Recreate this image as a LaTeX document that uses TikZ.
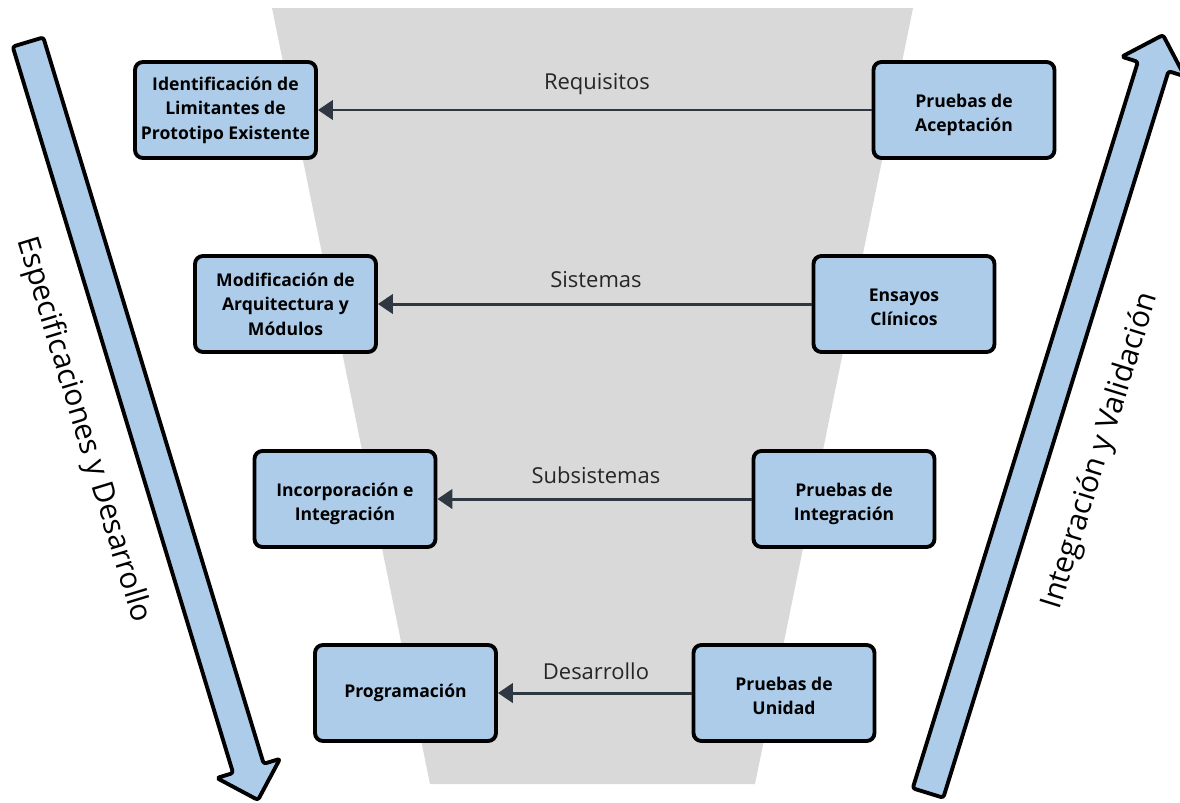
\documentclass[tikz,border=0pt]{standalone}
\usepackage{fontspec}
\setmainfont{Open Sans}
\usetikzlibrary{arrows.meta}
\definecolor{boxblue}{RGB}{173,204,233}
\definecolor{funnel}{RGB}{217,217,217}
\definecolor{conn}{RGB}{47,56,66}
\newcommand{\twolines}[2]{\raisebox{-2.5pt}[\height][\depth]{\begin{tabular}{@{}c@{}}#1\\#2\end{tabular}}}
\begin{document}
\begin{tikzpicture}[x=0.02cm,y=-0.02cm,
  stage/.style={draw=black, line width=2.2pt, fill=boxblue, rounded corners=4.5pt,
    minimum width=3.62cm, minimum height=1.92cm, align=center,
    font=\fontsize{10}{14}\selectfont\bfseries, inner sep=0pt},
  link/.style={draw=conn, line width=1.7pt, -{Triangle[length=8.5pt,width=11pt]}},
  lbl/.style={font=\fontsize{12.5}{15}\selectfont, text=black!85},
  big/.style={draw=black, line width=2.2pt, fill=boxblue, rounded corners=1.5pt, line join=round},
  bigtext/.style={font=\fontsize{17}{20}\selectfont}]
\useasboundingbox (0,0) rectangle (1180,802);
\clip (0,0) rectangle (1180,802);
\fill[white] (0,0) rectangle (1180,802);
\fill[funnel] (272,8) -- (913,8) -- (755,784) -- (430,784) -- cycle;

\node[stage] (ident) at (225.5,110) {Identificación de\\Limitantes de\\Prototipo Existente};
\node[stage] (acep) at (964,110) {\twolines{Pruebas de}{Aceptación}};
\node[stage] (modif) at (285.5,304) {Modificación de\\Arquitectura y\\Módulos};
\node[stage] (ensayos) at (904,304) {\twolines{Ensayos}{Clínicos}};
\node[stage] (incorp) at (345,499) {\twolines{Incorporación e}{Integración}};
\node[stage] (pinteg) at (844,499) {\twolines{Pruebas de}{Integración}};
\node[stage] (prog) at (405.5,693) {Programación};
\node[stage] (unidad) at (784,693) {\twolines{Pruebas de}{Unidad}};

\draw[link] (acep.west) -- (ident.east);
\draw[link] (ensayos.west) -- (modif.east);
\draw[link] (pinteg.west) -- (incorp.east);
\draw[link] (unidad.west) -- (prog.east);

\node[lbl] (l1) at (597,84) {Requisitos};
\node[lbl] (l2) at (596,280) {Sistemas};
\node[lbl] (l3) at (596,475) {Subsistemas};
\node[lbl] (l4) at (596,671) {Desarrollo};

\draw[big] (43.3,37.4) -- (263.7,763.8) -- (280.0,758.8) -- (258,800) -- (216.8,778.0) -- (233.1,773.0) -- (12.7,46.6) -- cycle;
\draw[big] (912.7,788.3) -- (1137.9,61.8) -- (1121.7,56.7) -- (1163,35) -- (1184.7,76.3) -- (1168.5,71.2) -- (943.3,797.7) -- cycle;

\node[bigtext, rotate=-73.1] (spec) at (83,430) {Especificaciones y Desarrollo};
\node[bigtext, rotate=72.8] (integ) at (1101,451) {Integración y Validación};
\end{tikzpicture}
\end{document}
